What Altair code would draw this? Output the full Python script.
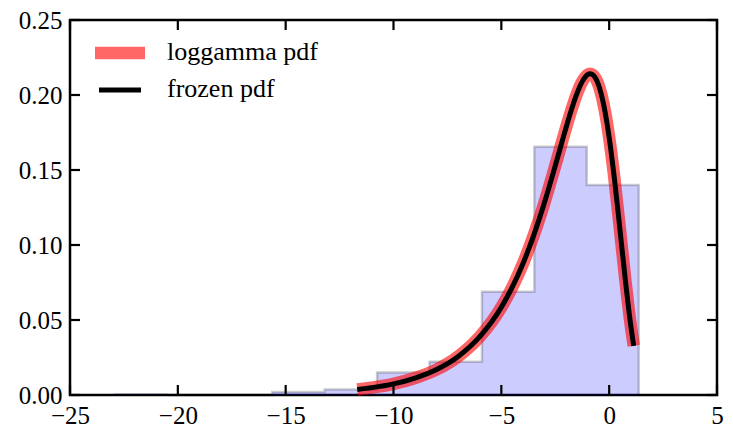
import altair as alt
import pandas as pd

# ---- data ----
bin_edges = [-22.91, -20.48, -18.05, -15.62, -13.19, -10.76, -8.33, -5.90, -3.47, -1.04, 1.37]
bin_density = [0.0004, 0.0, 0.0, 0.0020, 0.0037, 0.0150, 0.0222, 0.0689, 0.1655, 0.1400]

pdf_x = [-11.68, -11.0, -10.0, -9.0, -8.0, -7.0, -6.0, -5.0, -4.5, -4.0, -3.5, -3.0,
         -2.5, -2.0, -1.75, -1.5, -1.25, -1.0, -0.88, -0.75, -0.5, -0.25, 0.0,
         0.25, 0.5, 0.75, 1.0, 1.14]
pdf_y = [0.0037, 0.0049, 0.0074, 0.0113, 0.0170, 0.0257, 0.0389, 0.0585, 0.0717,
         0.0875, 0.1064, 0.1283, 0.1528, 0.1782, 0.1901, 0.2007, 0.2089, 0.2136,
         0.2142, 0.2134, 0.2070, 0.1932, 0.1718, 0.1434, 0.1104, 0.0767, 0.0466,
         0.0328]

x_ticks = [-25, -20, -15, -10, -5, 0, 5]
y_ticks = [0.0, 0.05, 0.10, 0.15, 0.20, 0.25]
legend_labels = ["loggamma pdf", "frozen pdf"]

# ---- layout / style ----
W, H = 647, 375
FONT = "Liberation Serif"
TICK_LEN = 10

# step outline of histogram
sx, sy = [bin_edges[0]], [0.0]
for e, d in zip(bin_edges[:-1], bin_density):
    sx.append(e); sy.append(d)
sx += [bin_edges[-1], bin_edges[-1]]
sy += [bin_density[-1], 0.0]
hist_df = pd.DataFrame({"x": sx, "y": sy, "i": list(range(len(sx)))})
pdf_df = pd.DataFrame({"x": pdf_x, "y": pdf_y})

xscale = alt.Scale(domain=[-25, 5], nice=False, zero=False)
yscale = alt.Scale(domain=[0, 0.25], nice=False, zero=False)

xaxis = alt.Axis(values=x_ticks, format="d", ticks=False, domain=False, grid=False,
                 labelFont=FONT, labelFontSize=25, labelColor="black", labelPadding=8,
                 labelFlush=False, labelOverlap=False, title=None)
yaxis = alt.Axis(values=y_ticks, format=".2f", ticks=False, domain=False, grid=False,
                 labelFont=FONT, labelFontSize=25, labelColor="black", labelPadding=8,
                 labelFlush=False, labelOverlap=False, title=None)

base_h = alt.Chart(hist_df).encode(
    x=alt.X("x:Q", scale=xscale, axis=xaxis),
    y=alt.Y("y:Q", scale=yscale, axis=yaxis),
    order=alt.Order("i:Q"),
)
hist_area = base_h.mark_area(interpolate="step-after", color="blue", opacity=0.2)
hist_line = base_h.mark_line(interpolate="step-after", color="black", strokeOpacity=0.2,
                             strokeWidth=2.5)

base_p = alt.Chart(pdf_df).encode(x=alt.X("x:Q", scale=xscale), y=alt.Y("y:Q", scale=yscale))
red_line = base_p.mark_line(interpolate="monotone", color="red", opacity=0.6,
                            strokeWidth=12.5, strokeCap="butt", strokeJoin="round")
black_line = base_p.mark_line(interpolate="monotone", color="black",
                              strokeWidth=5, strokeCap="butt", strokeJoin="round")

# inward ticks on all four sides
xt = alt.Chart(pd.DataFrame({"v": x_ticks}))
yt = alt.Chart(pd.DataFrame({"v": y_ticks}))
tick_style = dict(color="black", strokeWidth=2.2)
xt_bottom = xt.mark_rule(**tick_style).encode(
    x=alt.X("v:Q", scale=xscale), y=alt.value(H), y2=alt.value(H - TICK_LEN))
xt_top = xt.mark_rule(**tick_style).encode(
    x=alt.X("v:Q", scale=xscale), y=alt.value(0), y2=alt.value(TICK_LEN))
yt_left = yt.mark_rule(**tick_style).encode(
    y=alt.Y("v:Q", scale=yscale), x=alt.value(0), x2=alt.value(TICK_LEN))
yt_right = yt.mark_rule(**tick_style).encode(
    y=alt.Y("v:Q", scale=yscale), x=alt.value(W), x2=alt.value(W - TICK_LEN))

# legend (drawn manually)
leg_df = pd.DataFrame({"t": legend_labels})
leg1_sw = alt.Chart(leg_df.iloc[[0]]).mark_rule(color="red", opacity=0.6, strokeWidth=12.5,
                                                strokeCap="butt").encode(
    x=alt.value(25), x2=alt.value(75), y=alt.value(33))
leg2_sw = alt.Chart(leg_df.iloc[[1]]).mark_rule(color="black", strokeWidth=5,
                                                strokeCap="butt").encode(
    x=alt.value(29), x2=alt.value(71), y=alt.value(70))
leg1_tx = alt.Chart(leg_df.iloc[[0]]).mark_text(font=FONT, fontSize=26, align="left",
                                                baseline="middle", color="black").encode(
    text="t:N", x=alt.value(97), y=alt.value(32))
leg2_tx = alt.Chart(leg_df.iloc[[1]]).mark_text(font=FONT, fontSize=26, align="left",
                                                baseline="middle", color="black").encode(
    text="t:N", x=alt.value(97), y=alt.value(69))

chart = alt.layer(
    hist_area, hist_line, red_line, black_line,
    xt_bottom, xt_top, yt_left, yt_right,
    leg1_sw, leg2_sw, leg1_tx, leg2_tx,
).properties(
    width=W, height=H,
    autosize=alt.AutoSizeParams(type="none"),
    padding={"left": 62, "top": 12, "right": 8, "bottom": 33},
    background="white",
).configure_view(stroke="black", strokeWidth=2.5)

chart.save("out.html", embed_options={"renderer": "svg", "actions": False})
